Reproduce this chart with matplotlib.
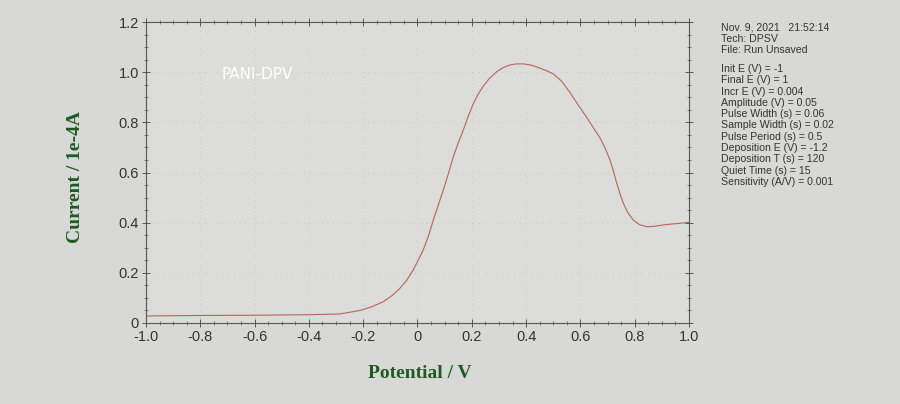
import matplotlib
matplotlib.use("Agg")
import matplotlib.pyplot as plt
from matplotlib.ticker import MultipleLocator
import numpy as np

potential = [-1.0, -0.8, -0.6, -0.4, -0.286, -0.212, -0.17, -0.126, -0.095, -0.065,
             -0.04, -0.016, 0.0, 0.021, 0.04, 0.058, 0.075, 0.095, 0.115, 0.132,
             0.15, 0.169, 0.187, 0.205, 0.222, 0.242, 0.265, 0.292, 0.315, 0.341,
             0.365, 0.39, 0.42, 0.451, 0.475, 0.50, 0.53, 0.561, 0.59, 0.623,
             0.65, 0.672, 0.69, 0.709, 0.722, 0.733, 0.746, 0.758, 0.776, 0.795,
             0.818, 0.844, 0.87, 0.905, 0.95, 0.991, 1.0]
current = [0.028, 0.030, 0.031, 0.033, 0.036, 0.050, 0.064, 0.085, 0.108, 0.138,
           0.170, 0.211, 0.245, 0.291, 0.345, 0.410, 0.465, 0.530, 0.600, 0.663,
           0.718, 0.770, 0.825, 0.873, 0.910, 0.944, 0.975, 1.002, 1.018, 1.029,
           1.033, 1.033, 1.028, 1.016, 1.006, 0.993, 0.965, 0.920, 0.872, 0.820,
           0.775, 0.738, 0.700, 0.650, 0.605, 0.560, 0.515, 0.477, 0.438, 0.410,
           0.392, 0.384, 0.385, 0.391, 0.396, 0.400, 0.401]

info_lines = ["Nov. 9, 2021   21:52:14", "Tech: DPSV", "File: Run Unsaved", "",
              "Init E (V) = -1", "Final E (V) = 1", "Incr E (V) = 0.004",
              "Amplitude (V) = 0.05", "Pulse Width (s) = 0.06", "Sample Width (s) = 0.02",
              "Pulse Period (s) = 0.5", "Deposition E (V) = -1.2", "Deposition T (s) = 120",
              "Quiet Time (s) = 15", "Sensitivity (A/V) = 0.001"]

bg = "#d8d9d7"
fig = plt.figure(figsize=(9, 4.04), dpi=100, facecolor=bg)
ax = fig.add_axes([146/900, 1-323/404, (689-146)/900, (323-22)/404])
ax.set_facecolor("#dcdddb")
ax.plot(potential, current, color="#b5655a", lw=0.8)
ax.set_xlim(-1.0, 1.0)
ax.set_ylim(0, 1.2)
ax.xaxis.set_minor_locator(MultipleLocator(0.05))
ax.yaxis.set_minor_locator(MultipleLocator(0.05))
ax.set_xticks(np.arange(-1.0, 1.01, 0.2))
ax.set_xticklabels(["-1.0", "-0.8", "-0.6", "-0.4", "-0.2", "0", "0.2", "0.4", "0.6", "0.8", "1.0"],
                   family="Liberation Sans")
ax.set_yticks(np.arange(0, 1.21, 0.2))
ax.set_yticklabels(["0", "0.2", "0.4", "0.6", "0.8", "1.0", "1.2"], family="Liberation Sans")
for s in ax.spines.values():
    s.set_color("#555555")
    s.set_linewidth(0.8)
ax.tick_params(which="major", direction="inout", length=6, width=0.7, color="#555555",
               labelsize=10.5, labelcolor="#333333", top=True, right=True, pad=2)
ax.tick_params(which="minor", direction="inout", length=3, width=0.6, color="#666666",
               top=True, right=True)
ax.grid(True, which="major", color="#c0c0c0", lw=0.6, linestyle=(0, (1, 6)))

ax.text(0.205, 0.825, "PANI-DPV", transform=ax.transAxes, color="white", fontsize=11,
        family="DejaVu Sans", ha="center", va="center")

fig.text(75/900, 1-177/404, "Current / 1e-4A", rotation=90, ha="center", va="center",
         fontsize=14, fontweight="bold", family="Liberation Serif", color="#1f5a22")
fig.text(420/900, 1-374/404, "Potential / V", ha="center", va="center",
         fontsize=14, fontweight="bold", family="Liberation Serif", color="#1f5a22")

for i, line in enumerate(info_lines):
    if i < 3:
        y = 27 + i * 11.5
    else:
        y = 69 + (i - 4) * 11.3
    if line:
        fig.text(721/900, 1-y/404, line, ha="left", va="center", fontsize=7.6,
                 family="Liberation Sans", color="#333333")

fig.savefig("out.png", dpi=100, facecolor=bg)
